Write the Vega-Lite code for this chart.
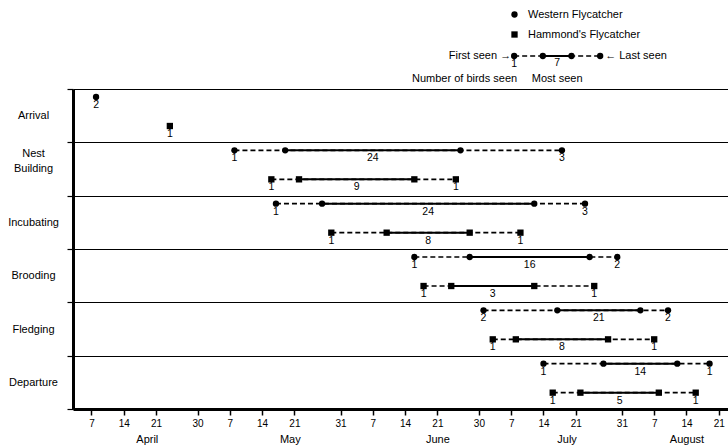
{
  "$schema": "https://vega.github.io/schema/vega-lite/v6.json",
  "autosize": {"type": "pad"},
  "padding": {"left": 7, "top": 9, "right": 0, "bottom": 2},
  "background": "white",
  "spacing": 13,
  "bounds": "flush",
  "config": {
    "view": {"stroke": null},
    "font": "Liberation Sans",
    "text": {"color": "black", "font": "Liberation Sans"}
  },
  "resolve": {"scale": {"x": "independent"}},
  "vconcat": [
    {
      "width": 655,
      "height": 40,
      "data": {"values": [{"first": 0, "mostStart": 1, "mostEnd": 2, "last": 3, "nFirst": 1, "nMost": 7}]},
      "layer": [
        {
          "mark": {"type": "rule", "strokeDash": [5, 3], "strokeWidth": 1.7, "color": "black"},
          "encoding": {
            "x": {"field": "first", "type": "quantitative", "scale": {"domain": [-15.39, 7.46], "nice": false, "zero": false}, "axis": null},
            "x2": {"field": "last"}
          }
        },
        {
          "mark": {"type": "rule", "strokeWidth": 2, "color": "black"},
          "encoding": {
            "x": {"field": "mostStart", "type": "quantitative"},
            "x2": {"field": "mostEnd"}
          }
        },
        {
          "transform": [{"fold": ["first", "mostStart", "mostEnd", "last"], "as": ["stage", "pos"]}],
          "mark": {"type": "point", "shape": "circle", "filled": true, "size": 40, "color": "black", "opacity": 1},
          "encoding": {"x": {"field": "pos", "type": "quantitative"}}
        },
        {
          "mark": {"type": "text", "baseline": "top", "dy": 3, "fontSize": 10.5, "color": "black"},
          "encoding": {"x": {"field": "first", "type": "quantitative"}, "text": {"field": "nFirst"}}
        },
        {
          "transform": [
            {"fold": ["mostStart", "mostEnd"], "as": ["stage", "pos"]},
            {"aggregate": [{"op": "mean", "field": "pos", "as": "mid"}], "groupby": ["nMost"]}
          ],
          "mark": {"type": "text", "baseline": "top", "dy": 2, "fontSize": 10.5, "color": "black"},
          "encoding": {"x": {"field": "mid", "type": "quantitative"}, "text": {"field": "nMost"}}
        },
        {
          "mark": {"type": "text", "text": "First seen →", "align": "right", "dx": -3, "fontSize": 11, "color": "black"},
          "encoding": {"x": {"field": "first", "type": "quantitative"}}
        },
        {
          "mark": {"type": "text", "text": "← Last seen", "align": "left", "dx": 5, "fontSize": 11, "color": "black"},
          "encoding": {"x": {"field": "last", "type": "quantitative"}}
        },
        {
          "mark": {"type": "text", "text": "Number of birds seen", "align": "right", "dx": 3, "dy": 23, "fontSize": 11, "color": "black"},
          "encoding": {"x": {"field": "first", "type": "quantitative"}}
        },
        {
          "transform": [
            {"fold": ["mostStart", "mostEnd"], "as": ["stage", "pos"]},
            {"aggregate": [{"op": "mean", "field": "pos", "as": "mid"}], "groupby": ["nMost"]}
          ],
          "mark": {"type": "text", "text": "Most seen", "align": "center", "dy": 23, "fontSize": 11, "color": "black"},
          "encoding": {"x": {"field": "mid", "type": "quantitative"}}
        }
      ]
    },
    {
      "width": 655,
      "height": 320,
      "data": {
        "values": [
          {"activity": "Arrival", "species": "Western Flycatcher", "first": "1990-04-08", "mostStart": null, "mostEnd": null, "last": null, "nFirst": 2, "nMost": null, "nLast": null},
          {"activity": "Arrival", "species": "Hammond's Flycatcher", "first": "1990-04-24", "mostStart": null, "mostEnd": null, "last": null, "nFirst": 1, "nMost": null, "nLast": null},
          {"activity": "Nest Building", "species": "Western Flycatcher", "first": "1990-05-08", "mostStart": "1990-05-19", "mostEnd": "1990-06-26", "last": "1990-07-18", "nFirst": 1, "nMost": 24, "nLast": 3},
          {"activity": "Nest Building", "species": "Hammond's Flycatcher", "first": "1990-05-16", "mostStart": "1990-05-22", "mostEnd": "1990-06-16", "last": "1990-06-25", "nFirst": 1, "nMost": 9, "nLast": 1},
          {"activity": "Incubating", "species": "Western Flycatcher", "first": "1990-05-17", "mostStart": "1990-05-27", "mostEnd": "1990-07-12", "last": "1990-07-23", "nFirst": 1, "nMost": 24, "nLast": 3},
          {"activity": "Incubating", "species": "Hammond's Flycatcher", "first": "1990-05-29", "mostStart": "1990-06-10", "mostEnd": "1990-06-28", "last": "1990-07-09", "nFirst": 1, "nMost": 8, "nLast": 1},
          {"activity": "Brooding", "species": "Western Flycatcher", "first": "1990-06-16", "mostStart": "1990-06-28", "mostEnd": "1990-07-24", "last": "1990-07-30", "nFirst": 1, "nMost": 16, "nLast": 2},
          {"activity": "Brooding", "species": "Hammond's Flycatcher", "first": "1990-06-18", "mostStart": "1990-06-24", "mostEnd": "1990-07-12", "last": "1990-07-25", "nFirst": 1, "nMost": 3, "nLast": 1},
          {"activity": "Fledging", "species": "Western Flycatcher", "first": "1990-07-01", "mostStart": "1990-07-17", "mostEnd": "1990-08-04", "last": "1990-08-10", "nFirst": 2, "nMost": 21, "nLast": 2},
          {"activity": "Fledging", "species": "Hammond's Flycatcher", "first": "1990-07-03", "mostStart": "1990-07-08", "mostEnd": "1990-07-28", "last": "1990-08-07", "nFirst": 1, "nMost": 8, "nLast": 1},
          {"activity": "Departure", "species": "Western Flycatcher", "first": "1990-07-14", "mostStart": "1990-07-27", "mostEnd": "1990-08-12", "last": "1990-08-19", "nFirst": 1, "nMost": 14, "nLast": 1},
          {"activity": "Departure", "species": "Hammond's Flycatcher", "first": "1990-07-16", "mostStart": "1990-07-22", "mostEnd": "1990-08-08", "last": "1990-08-16", "nFirst": 1, "nMost": 5, "nLast": 1}
        ],
        "format": {"parse": {"first": "date", "mostStart": "date", "mostEnd": "date", "last": "date"}}
      },
      "encoding": {
        "y": {
          "field": "activity",
          "type": "nominal",
          "sort": ["Arrival", "Nest Building", "Incubating", "Brooding", "Fledging", "Departure"],
          "scale": {"paddingInner": 0, "paddingOuter": 0},
          "axis": {
            "title": null,
            "tickBand": "extent",
            "grid": true,
            "gridColor": "black",
            "gridWidth": 1.2,
            "gridOpacity": 1,
            "tickColor": "black",
            "tickWidth": 1.2,
            "tickSize": 6,
            "domainColor": "black",
            "domainWidth": 3,
            "labelAlign": "center",
            "labelBaseline": "middle",
            "labelPadding": 34,
            "labelFontSize": 11,
            "labelColor": "black",
            "labelFont": "Liberation Sans",
            "labelLineHeight": 15,
            "labelOffset": {"condition": {"test": "datum.label == 'Nest Building'", "value": -16}, "value": 0},
            "labelExpr": "datum.label == 'Nest Building' ? ['Nest', 'Building'] : datum.label"
          }
        },
        "yOffset": {
          "field": "species",
          "type": "nominal",
          "sort": ["Western Flycatcher", "Hammond's Flycatcher"],
          "scale": {"type": "point", "padding": 0.4195, "align": 0.329}
        }
      },
      "resolve": {"axis": {"x": "independent"}},
      "layer": [
        {
          "transform": [{"filter": {"field": "last", "valid": true}}],
          "mark": {"type": "rule", "strokeDash": [5, 3], "strokeWidth": 1.7, "color": "black"},
          "encoding": {
            "x": {
              "field": "first",
              "type": "temporal",
              "scale": {
                "type": "utc",
                "nice": false,
                "domain": [
                  {"year": 1990, "month": "apr", "date": 3, "utc": true},
                  {"year": 1990, "month": "aug", "date": 23, "utc": true}
                ]
              },
              "axis": {
                "orient": "bottom",
                "title": null,
                "grid": false,
                "values": [
                  {"year": 1990, "month": "apr", "date": 7, "utc": true},
                  {"year": 1990, "month": "apr", "date": 14, "utc": true},
                  {"year": 1990, "month": "apr", "date": 21, "utc": true},
                  {"year": 1990, "month": "apr", "date": 30, "utc": true},
                  {"year": 1990, "month": "may", "date": 7, "utc": true},
                  {"year": 1990, "month": "may", "date": 14, "utc": true},
                  {"year": 1990, "month": "may", "date": 21, "utc": true},
                  {"year": 1990, "month": "may", "date": 31, "utc": true},
                  {"year": 1990, "month": "jun", "date": 7, "utc": true},
                  {"year": 1990, "month": "jun", "date": 14, "utc": true},
                  {"year": 1990, "month": "jun", "date": 21, "utc": true},
                  {"year": 1990, "month": "jun", "date": 30, "utc": true},
                  {"year": 1990, "month": "jul", "date": 7, "utc": true},
                  {"year": 1990, "month": "jul", "date": 14, "utc": true},
                  {"year": 1990, "month": "jul", "date": 21, "utc": true},
                  {"year": 1990, "month": "jul", "date": 31, "utc": true},
                  {"year": 1990, "month": "aug", "date": 7, "utc": true},
                  {"year": 1990, "month": "aug", "date": 14, "utc": true},
                  {"year": 1990, "month": "aug", "date": 21, "utc": true}
                ],
                "labelExpr": "utcFormat(datum.value, '%-d')",
                "tickSize": 6,
                "tickWidth": 1.5,
                "tickColor": "black",
                "domainColor": "black",
                "domainWidth": 3,
                "labelPadding": 3,
                "labelFontSize": 10,
                "labelColor": "black",
                "labelFlush": false,
                "labelOverlap": false
              }
            },
            "x2": {"field": "last"}
          }
        },
        {
          "transform": [{"filter": {"field": "mostStart", "valid": true}}],
          "mark": {"type": "rule", "strokeWidth": 2, "color": "black"},
          "encoding": {
            "x": {"field": "mostStart", "type": "temporal", "axis": null},
            "x2": {"field": "mostEnd"}
          }
        },
        {
          "transform": [
            {"fold": ["first", "mostStart", "mostEnd", "last"], "as": ["stage", "date"]},
            {"filter": {"field": "date", "valid": true}}
          ],
          "mark": {"type": "point", "filled": true, "size": 40, "color": "black", "opacity": 1},
          "encoding": {
            "x": {
              "field": "date",
              "type": "temporal",
              "axis": {
                "orient": "bottom",
                "title": null,
                "grid": false,
                "ticks": false,
                "tickSize": 0,
                "domain": false,
                "values": [
                  {"year": 1990, "month": "apr", "date": 19, "utc": true},
                  {"year": 1990, "month": "may", "date": 20, "utc": true},
                  {"year": 1990, "month": "jun", "date": 21, "utc": true},
                  {"year": 1990, "month": "jul", "date": 19, "utc": true},
                  {"year": 1990, "month": "aug", "date": 14, "utc": true}
                ],
                "labelExpr": "utcFormat(datum.value, '%B')",
                "labelPadding": 24,
                "labelFontSize": 11,
                "labelColor": "black",
                "labelFlush": false,
                "labelOverlap": false
              }
            },
            "shape": {
              "field": "species",
              "type": "nominal",
              "sort": ["Western Flycatcher", "Hammond's Flycatcher"],
              "scale": {"range": ["circle", "square"]},
              "legend": {
                "title": null,
                "orient": "none",
                "legendX": 436,
                "legendY": -27,
                "padding": 0,
                "symbolSize": 40,
                "symbolFillColor": "black",
                "symbolStrokeColor": "black",
                "labelFontSize": 11,
                "labelColor": "black",
                "labelOffset": 8,
                "rowPadding": 7
              }
            }
          }
        },
        {
          "transform": [{"filter": {"field": "nFirst", "valid": true}}],
          "mark": {"type": "text", "baseline": "top", "dy": 3, "fontSize": 10.5, "color": "black"},
          "encoding": {
            "x": {"field": "first", "type": "temporal", "axis": null},
            "text": {"field": "nFirst"}
          }
        },
        {
          "transform": [{"filter": {"field": "nLast", "valid": true}}],
          "mark": {"type": "text", "baseline": "top", "dy": 3, "fontSize": 10.5, "color": "black"},
          "encoding": {
            "x": {"field": "last", "type": "temporal", "axis": null},
            "text": {"field": "nLast"}
          }
        },
        {
          "transform": [
            {"filter": {"field": "nMost", "valid": true}},
            {"fold": ["mostStart", "mostEnd"], "as": ["stage", "d"]},
            {"aggregate": [{"op": "mean", "field": "d", "as": "mid"}], "groupby": ["activity", "species", "nMost"]}
          ],
          "mark": {"type": "text", "baseline": "top", "dy": 3, "fontSize": 10.5, "color": "black"},
          "encoding": {
            "x": {"field": "mid", "type": "temporal", "axis": null},
            "text": {"field": "nMost"}
          }
        }
      ]
    }
  ]
}
